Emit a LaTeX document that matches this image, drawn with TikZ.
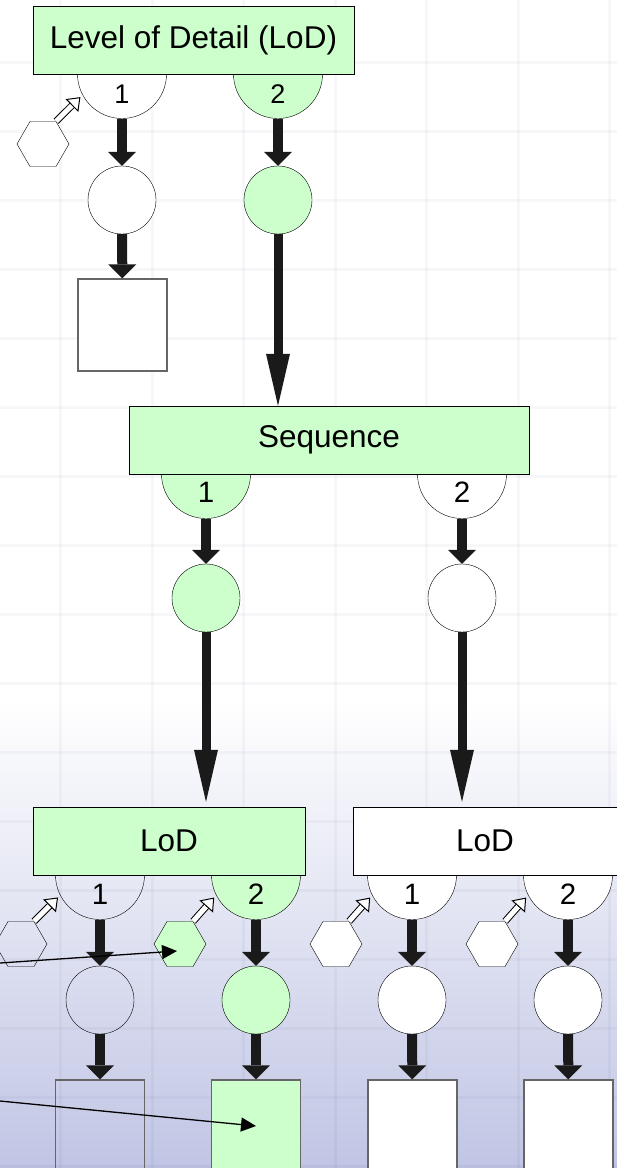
\documentclass[tikz,border=0pt]{standalone}
\usepackage{fontspec}
\setmainfont{Liberation Sans}
\usetikzlibrary{arrows.meta,shapes.geometric}

\definecolor{lodgreen}{RGB}{204,255,204}
\definecolor{arrowblack}{RGB}{26,26,26}
\definecolor{bgmid}{RGB}{232,233,246}
\definecolor{bglilac}{RGB}{192,197,228}

\begin{document}
\begin{tikzpicture}[x=1pt,y=-1pt,
    box/.style={draw,rectangle,minimum height=68pt,inner sep=0pt,font=\fontsize{31.5}{36}\selectfont},
    port/.style={draw,circle,minimum size=89pt,inner sep=0pt},
    num/.style={inner sep=0pt,font=\fontsize{29.5}{34}\selectfont},
    state/.style={draw,circle,minimum size=68pt,inner sep=0pt},
    leaf/.style={draw=black!60,line width=1.2pt,rectangle,minimum width=89pt,minimum height=92pt,inner sep=0pt},
    hexa/.style={draw,regular polygon,regular polygon sides=6,minimum size=52pt,inner sep=0pt},
    fat/.style={draw=arrowblack,line width=10pt,-{Triangle[length=14pt,width=28pt,line width=0pt]}},
    tall/.style={draw=arrowblack,line width=9pt,-{Triangle[length=52pt,width=24pt,line width=0pt]}},
    hollow/.style={double=white,double distance=5pt,line width=1pt,shorten >=3pt,
      -{Triangle[fill=white,length=12pt,width=18pt,line width=1pt]}},
    pointer/.style={line width=1.3pt,-{Triangle[length=15pt,width=14pt]}},
    gridline/.style={draw=blue!30!black,opacity=0.03,line width=3pt}]

  \useasboundingbox (0,0) rectangle (617,1168);

  % backdrop with faint grid
  \fill[white] (0,0) rectangle (617,700);
  \shade[top color=white,middle color=bgmid,bottom color=bglilac] (0,700) rectangle (617,1168);
  \foreach \gx in {60,152,243,335,426,518,609}
    \draw[gridline] (\gx,0) -- (\gx,1168);
  \foreach \gy in {62,131,200,269,338,407,476,545,614,683,752,821,890,959,1028,1097,1166}
    \draw[gridline] (0,\gy) -- (617,\gy);

  % Level of Detail (LoD)
  \node[port,fill=white] (t1) at (122,74) {};
  \node[port,fill=lodgreen] (t2) at (278,74) {};
  \node[box,fill=lodgreen,minimum width=321pt] (lod) at (193.5,40) {Level of Detail (LoD)};
  \node[num,font=\fontsize{27}{32}\selectfont] (t1n) at ([yshift=-20.5pt]t1.center) {1};
  \node[num,font=\fontsize{27}{32}\selectfont] (t2n) at ([yshift=-20.5pt]t2.center) {2};
  \node[hexa,fill=white] (th) at (43,144) {};
  \node[state,fill=white] (tc1) at (122,200) {};
  \node[state,fill=lodgreen] (tc2) at (278,200) {};
  \node[leaf,fill=white] (tl) at (122.5,325) {};
  \draw[hollow] (th.60) -- (t1.208);
  \draw[fat] (t1) -- (tc1);
  \draw[fat] (t2) -- (tc2);
  \draw[fat] (tc1) -- (tl);

  % Sequence
  \node[port,fill=lodgreen] (s1) at (206,474) {};
  \node[port,fill=white] (s2) at (462,474) {};
  \node[box,fill=lodgreen,minimum width=400pt] (seq) at (329,440) {Sequence};
  \node[num] (s1n) at ([yshift=-18pt]s1.center) {1};
  \node[num] (s2n) at ([yshift=-18pt]s2.center) {2};
  \node[state,fill=lodgreen] (sc1) at (206,598) {};
  \node[state,fill=white] (sc2) at (462,598) {};
  \draw[tall] (tc2.south) -- (tc2.south |- seq.north);
  \draw[fat] (s1) -- (sc1);
  \draw[fat] (s2) -- (sc2);

  % the two LoD children
  \node[port] (a1) at (100,875) {};
  \node[port,fill=lodgreen] (a2) at (256,875) {};
  \node[port,fill=white] (b1) at (412,875) {};
  \node[port,fill=white] (b2) at (568,875) {};
  \node[box,fill=lodgreen,minimum width=272pt] (lodA) at (169,841) {LoD};
  \node[box,fill=white,minimum width=264pt] (lodB) at (485,841) {LoD};
  \draw[tall,shorten >=5pt] (sc1.south) -- (sc1.south |- lodA.north);
  \draw[tall,shorten >=5pt] (sc2.south) -- (sc2.south |- lodB.north);
  \foreach \p/\d in {a1/1,a2/2,b1/1,b2/2}
    \node[num] (\p n) at ([yshift=-19.5pt]\p.center) {\d};

  \node[hexa] (ha1) at (21,944) {};
  \node[hexa,fill=lodgreen] (ha2) at (180,944) {};
  \node[hexa,fill=white] (hb1) at (336,944) {};
  \node[hexa,fill=white] (hb2) at (492,944) {};

  \node[state] (ca1) at (100,1000) {};
  \node[state,fill=lodgreen] (ca2) at (256,1000) {};
  \node[state,fill=white] (cb1) at (412,1000) {};
  \node[state,fill=white] (cb2) at (568,1000) {};

  \node[leaf] (la1) at (100,1126) {};
  \node[leaf,fill=lodgreen] (la2) at (256,1126) {};
  \node[leaf,fill=white] (lb1) at (412.5,1126) {};
  \node[leaf,fill=white] (lb2) at (568.5,1126) {};

  \foreach \p in {a1,a2,b1,b2}{
    \draw[hollow] (h\p.60) -- (\p.207);
    \draw[fat] (\p) -- (c\p);
    \draw[fat] (c\p) -- (l\p);
  }

  % incoming links from the left
  \coordinate (from1) at (0,963);
  \coordinate (from2) at (0,1101);
  \draw[pointer] (from1) -- ([xshift=-3pt,yshift=-7pt]ha2.center);
  \draw[pointer] (from2) -- (la2.center);
\end{tikzpicture}
\end{document}
